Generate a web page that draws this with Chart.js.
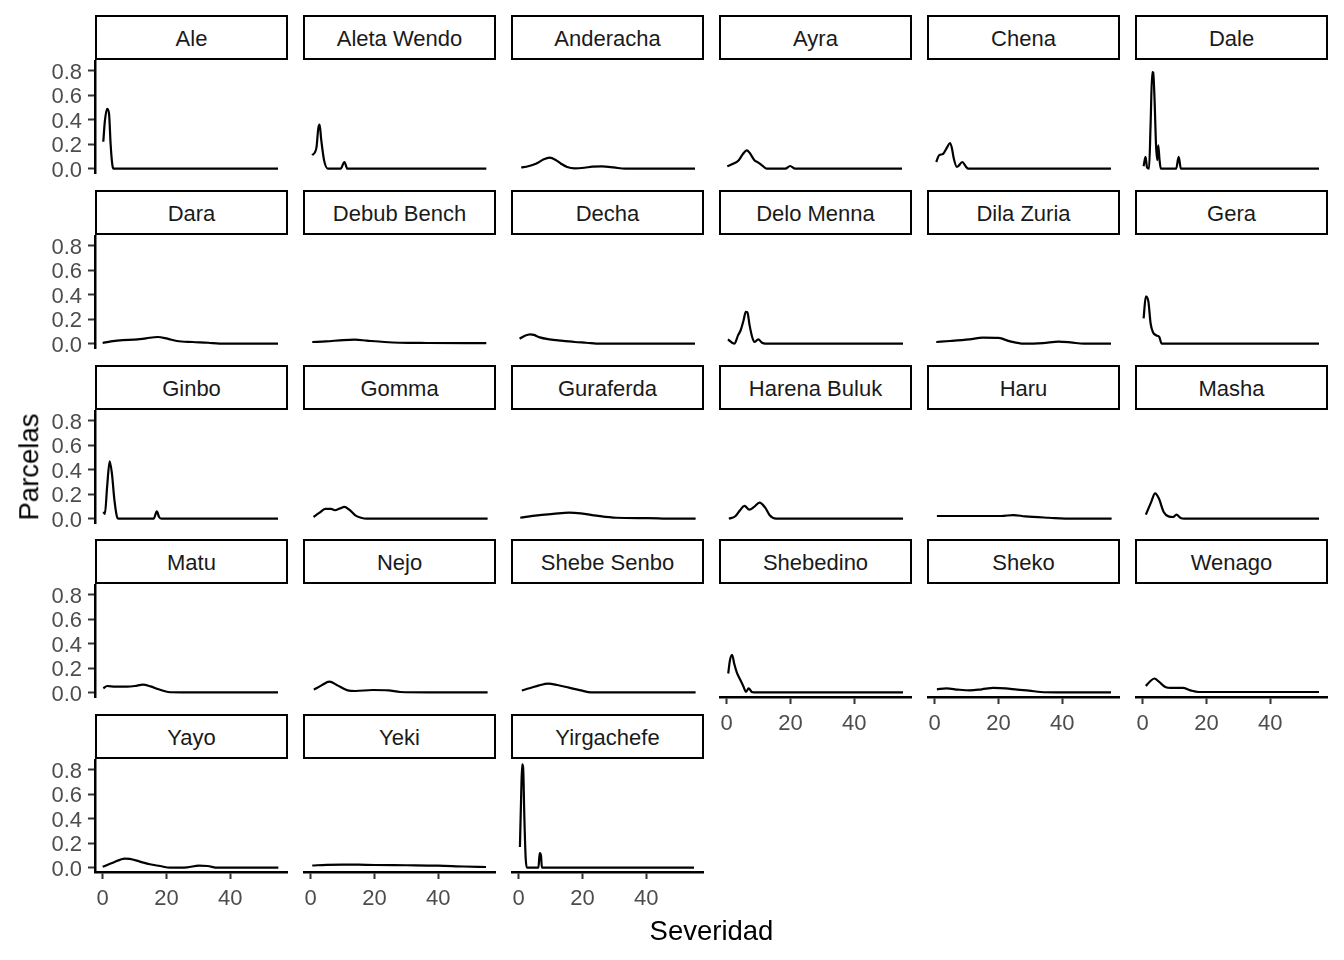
<!DOCTYPE html>
<html>
<head>
<meta charset="utf-8">
<script src="https://cdn.jsdelivr.net/npm/chart.js@4.4.1/dist/chart.umd.min.js"></script>
<style>
  html, body { margin: 0; padding: 0; background: #fff; }
  body { width: 1344px; height: 960px; position: relative; overflow: hidden;
         font-family: "Liberation Sans", Arial, sans-serif; }
  canvas { position: absolute; }
  .strip { position: absolute; box-sizing: border-box; border: 2.7px solid #000; background: #fff;
           display: flex; align-items: center; justify-content: center;
           font-size: 22px; line-height: 22px; color: #1a1a1a; padding-top: 3px; }
  .title { position: absolute; font-size: 27.5px; line-height: 27.5px; color: #000; white-space: nowrap; }
</style>
</head>
<body>
<script>
// ---------- data (Severidad, densidad) ----------
const regions = ["Ale","Aleta Wendo","Anderacha","Ayra","Chena","Dale",
                 "Dara","Debub Bench","Decha","Delo Menna","Dila Zuria","Gera",
                 "Ginbo","Gomma","Guraferda","Harena Buluk","Haru","Masha",
                 "Matu","Nejo","Shebe Senbo","Shebedino","Sheko","Wenago",
                 "Yayo","Yeki","Yirgachefe"];

const xTicks = [0, 20, 40];
const yTicks = [0, 0.2, 0.4, 0.6, 0.8];

const ale = [[0.2,0.22],[0.7,0.39],[1.4,0.49],[2.0,0.45],[2.5,0.2],[3.0,0.04],[3.4,0],[55,0]];
const aletaWendo = [[0.5,0.11],[1.8,0.17],[2.4,0.33],[2.8,0.36],[3.3,0.24],[4.2,0.07],[5.4,0],[9.4,0],[10.6,0.055],[11.5,0],[55.1,0]];
const anderacha = [[0.8,0.01],[3,0.02],[5.4,0.04],[7.9,0.077],[9.7,0.09],[11.5,0.074],[13.3,0.041],[15.2,0.014],[17.6,0.003],[20.6,0.008],[23.1,0.017],[26.1,0.019],[29.8,0.011],[33.4,0],[55.3,0]];
const ayra = [[0.2,0.02],[2,0.04],[3.8,0.07],[5.1,0.12],[6.3,0.15],[7.2,0.13],[8.7,0.07],[9.9,0.05],[11.1,0.028],[12.6,0],[18.4,0],[19.9,0.022],[21.5,0],[55,0]];
const chena = [[0.5,0.055],[1.4,0.11],[2.6,0.12],[3.8,0.17],[4.8,0.21],[5.4,0.17],[6.0,0.083],[7.0,0.014],[8.7,0.055],[9.7,0.02],[10.6,0],[55.3,0]];
const dale = [[0.3,0.02],[0.9,0.096],[1.4,0.008],[2.0,0],[2.5,0.37],[3.0,0.79],[3.3,0.785],[3.7,0.59],[4.2,0.19],[4.6,0.07],[4.9,0.19],[5.3,0.07],[5.7,0],[10.5,0],[11.3,0.096],[12.0,0],[55.3,0]];
const dara = [[0,0.006],[2.6,0.019],[6.3,0.03],[9.9,0.033],[13.6,0.044],[17.2,0.055],[20.3,0.041],[23.3,0.022],[28.2,0.014],[33.1,0.008],[36.7,0.001],[55,0.001]];
const debubBench = [[0.5,0.014],[4.8,0.019],[10.3,0.03],[13.9,0.033],[17.6,0.025],[23.1,0.014],[27.9,0.008],[36.5,0.006],[55.1,0.005]];
const decha = [[0.3,0.041],[1.8,0.063],[3.6,0.077],[4.8,0.072],[6.6,0.052],[9.7,0.036],[13.3,0.025],[17.6,0.014],[21.2,0.008],[25.5,0],[55.3,0]];
const deloMenna = [[0.4,0.036],[2.4,0],[3.6,0.07],[4.4,0.11],[5.3,0.19],[6.0,0.26],[6.5,0.256],[7.2,0.15],[8.0,0.055],[8.7,0.014],[9.9,0.036],[11.1,0.008],[12.1,0],[55.3,0]];
const dilaZuria = [[0.5,0.014],[4.8,0.022],[10.9,0.036],[15.1,0.05],[20,0.047],[23.7,0.019],[27.9,0],[34,0.005],[38.9,0.017],[42.6,0.011],[46.8,0],[55.3,0]];
const gera = [[0.3,0.207],[1.0,0.386],[1.8,0.344],[2.5,0.165],[3.2,0.096],[4.2,0.069],[5.2,0.055],[6.0,0],[55.3,0]];
const ginbo = [[0.2,0.055],[0.7,0.04],[1.4,0.26],[2.2,0.468],[2.9,0.37],[3.7,0.15],[4.6,0.008],[5.1,0],[16,0],[17,0.06],[17.7,0.014],[18.5,0],[55,0]];
const gomma = [[0.9,0.014],[2.7,0.047],[4.6,0.08],[6.4,0.08],[7.6,0.069],[9.1,0.083],[10.6,0.096],[12.1,0.074],[14,0.028],[15.8,0.008],[17.5,0],[55.5,0]];
const guraferda = [[0.5,0.008],[5.9,0.028],[10.8,0.039],[15.8,0.05],[19.5,0.044],[24.4,0.025],[30.6,0.008],[40.5,0.005],[47.9,0],[55.5,0]];
const harenaBuluk = [[0.7,0],[2.7,0.02],[4.2,0.069],[5.6,0.105],[7.1,0.074],[8.6,0.096],[10.3,0.132],[12.1,0.09],[13.5,0.028],[15.5,0],[55.3,0]];
const haru = [[0.7,0.022],[10,0.022],[20.9,0.022],[24.7,0.03],[28.4,0.019],[35.8,0.008],[43.2,0],[55.5,0]];
const masha = [[1,0.033],[2.7,0.138],[3.9,0.207],[5.1,0.165],[6.6,0.055],[8.1,0.019],[9.6,0.014],[10.6,0.033],[11.8,0.008],[13,0],[55.3,0]];
const matu = [[0.2,0.036],[1.4,0.055],[3.9,0.05],[7.6,0.05],[10.1,0.055],[12.6,0.066],[15,0.052],[17.5,0.028],[20.5,0.006],[24.9,0.003],[55,0.003]];
const nejo = [[1,0.025],[3.4,0.06],[5.9,0.09],[8.4,0.06],[11.6,0.019],[14,0.014],[19.5,0.022],[24.4,0.019],[28.1,0.006],[36.8,0.003],[55.5,0.003]];
const shebeSenbo = [[1,0.019],[3.4,0.036],[6.4,0.06],[9.3,0.074],[12.1,0.063],[15.8,0.041],[19.5,0.019],[22.7,0.003],[55.5,0.003]];
const shebedino = [[0.5,0.157],[1.0,0.26],[1.7,0.31],[2.4,0.234],[3.2,0.165],[4.2,0.11],[5.2,0.055],[6.1,0.008],[6.9,0.036],[7.9,0.006],[8.6,0.003],[55.3,0.003]];
const sheko = [[0.7,0.028],[3.7,0.036],[7.4,0.025],[11.1,0.019],[14.8,0.028],[18.5,0.039],[22.2,0.036],[25.9,0.025],[29.6,0.017],[33.3,0.006],[38.2,0.003],[55.3,0.003]];
const wenago = [[1,0.055],[2.2,0.09],[3.7,0.116],[5.1,0.09],[7.1,0.047],[8.9,0.039],[12.6,0.039],[15,0.019],[17.5,0.006],[55.3,0.006]];
const yayo = [[0,0.008],[3.2,0.04],[6.9,0.075],[8.5,0.072],[11.7,0.05],[14.8,0.028],[18,0.014],[21.2,0],[26.5,0.003],[30.2,0.017],[32.9,0.014],[36.1,0],[55.1,0]];
const yeki = [[0.5,0.018],[5,0.024],[10,0.026],[15,0.025],[20,0.022],[30,0.02],[40,0.017],[48,0.01],[55,0.006]];
const yirgachefe = [[0.4,0.17],[0.8,0.6],[1.1,0.845],[1.4,0.82],[1.8,0.4],[2.2,0.08],[2.6,0],[6.2,0],[6.6,0.12],[7.0,0.1],[7.3,0],[55,0]];

const series = [ale, aletaWendo, anderacha, ayra, chena, dale,
                dara, debubBench, decha, deloMenna, dilaZuria, gera,
                ginbo, gomma, guraferda, harenaBuluk, haru, masha,
                matu, nejo, shebeSenbo, shebedino, sheko, wenago,
                yayo, yeki, yirgachefe];

// ---------- layout ----------
const NCOL = 6;
const X_MIN = -2.4, X_MAX = 58.13;
const Y_MIN = -0.035, Y_MAX = 0.888;
const PANEL_W = 193, PANEL_H = 113;
const AXIS_W = 95, AXIS_H = 50;
const FONT = '"Liberation Sans", Arial, sans-serif';

Chart.defaults.font.family = FONT;

regions.forEach((name, i) => {
  const r = Math.floor(i / NCOL), c = i % NCOL;
  const hasY = c === 0;
  const hasX = i + NCOL >= regions.length;
  const left = 95 + 208 * c;
  const stripTop = Math.round(15 + 174.75 * r);
  const top = stripTop + 45;

  const strip = document.createElement('div');
  strip.className = 'strip';
  strip.style.left = left + 'px';
  strip.style.top = stripTop + 'px';
  strip.style.width = PANEL_W + 'px';
  strip.style.height = '45px';
  strip.textContent = name;
  document.body.appendChild(strip);

  const padBottom = hasX ? 0 : 14;
  const axW = hasY ? AXIS_W : 0;
  const axH = hasX ? AXIS_H : 0;
  const cv = document.createElement('canvas');
  const w = PANEL_W + axW, h = PANEL_H + axH + padBottom;
  cv.width = w; cv.height = h;
  cv.style.width = w + 'px'; cv.style.height = h + 'px';
  cv.style.left = (left - axW) + 'px';
  cv.style.top = top + 'px';
  document.body.appendChild(cv);

  new Chart(cv, {
    type: 'line',
    data: {
      datasets: [{
        data: series[i].map(([x, y]) => ({ x, y })),
        borderColor: '#000',
        borderWidth: 2.2,
        pointRadius: 0,
        fill: false,
        cubicInterpolationMode: 'monotone'
      }]
    },
    options: {
      responsive: false,
      maintainAspectRatio: false,
      devicePixelRatio: 1,
      animation: false,
      events: [],
      layout: { padding: { top: 0, left: 0, right: 0, bottom: padBottom } },
      plugins: { legend: { display: false }, tooltip: { enabled: false } },
      scales: {
        x: {
          type: 'linear', position: 'bottom', min: X_MIN, max: X_MAX,
          display: hasX,
          afterBuildTicks: s => { s.ticks = xTicks.map(v => ({ value: v })); },
          afterFit: s => {
            s.paddingLeft = 0; s.paddingRight = 0;
            s.height = hasX ? AXIS_H : 0;
          },
          grid: { display: true, drawOnChartArea: false, drawTicks: true, tickLength: 7,
                  tickColor: '#333333', tickWidth: 2, color: 'rgba(0,0,0,0)' },
          border: { display: true, color: '#000', width: 2.5 },
          ticks: { color: '#4D4D4D', font: { size: 22, family: FONT }, padding: 7,
                   maxRotation: 0, autoSkip: false, callback: v => String(v) }
        },
        y: {
          type: 'linear', position: 'left', min: Y_MIN, max: Y_MAX,
          display: hasY,
          afterBuildTicks: s => { s.ticks = yTicks.map(v => ({ value: v })); },
          afterFit: s => {
            s.paddingTop = 0; s.paddingBottom = 0;
            s.width = hasY ? AXIS_W : 0;
          },
          grid: { display: true, drawOnChartArea: false, drawTicks: true, tickLength: 7,
                  tickColor: '#333333', tickWidth: 2, color: 'rgba(0,0,0,0)' },
          border: { display: true, color: '#000', width: 2.5 },
          ticks: { color: '#4D4D4D', font: { size: 22, family: FONT }, padding: 6,
                   labelOffset: 2, autoSkip: false, callback: v => v.toFixed(1) }
        }
      }
    }
  });
});

// axis titles
const xt = document.createElement('div');
xt.className = 'title';
xt.textContent = 'Severidad';
xt.style.left = '711.5px';
xt.style.top = '917px';
xt.style.transform = 'translateX(-50%)';
document.body.appendChild(xt);

const yt = document.createElement('div');
yt.className = 'title';
yt.textContent = 'Parcelas';
yt.style.left = '29px';
yt.style.top = '467px';
yt.style.transform = 'translate(-50%,-50%) rotate(-90deg)';
document.body.appendChild(yt);
</script>
</body>
</html>
